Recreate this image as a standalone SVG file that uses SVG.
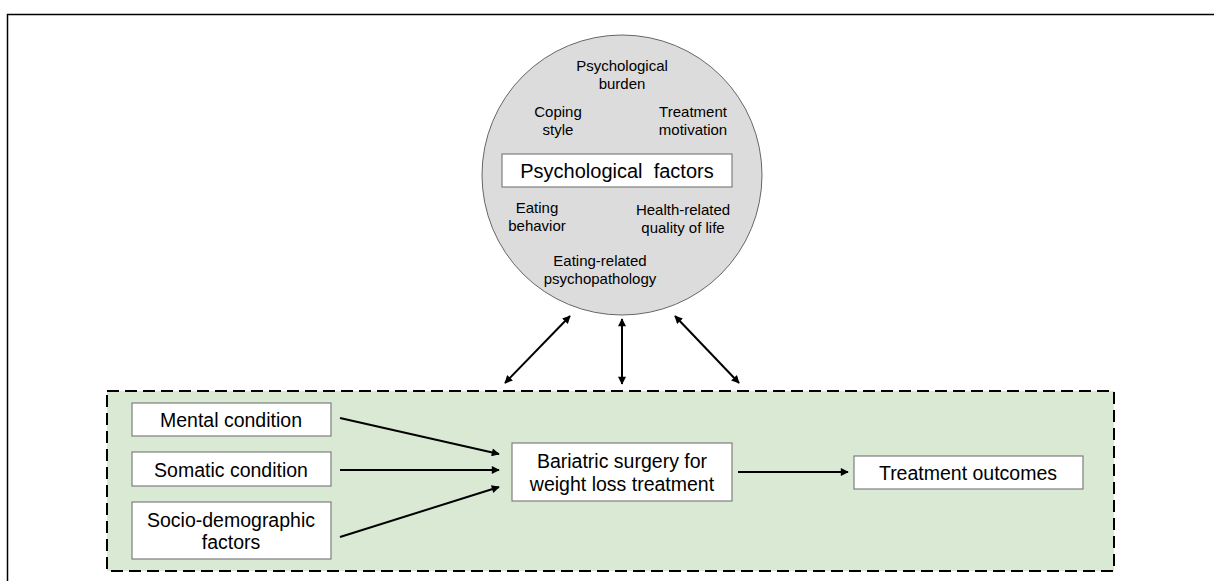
<svg xmlns="http://www.w3.org/2000/svg" width="1214" height="581" viewBox="0 0 1214 581">
<defs>
<marker id="ah" viewBox="0 0 10 10" refX="9" refY="5" markerWidth="9" markerHeight="8" markerUnits="userSpaceOnUse" orient="auto-start-reverse"><path d="M0,0 L10,5 L0,10 z" fill="#000"/></marker>
<style>
.box{fill:#fff;stroke:#7f7f7f;stroke-width:1.2}
.t{font-family:"Liberation Sans",Arial,sans-serif;fill:#000;text-anchor:middle}
.s{font-size:15px}
.m{font-size:19.5px}
.c{stroke:#000;stroke-width:2;fill:none}
</style>
</defs>
<rect width="1214" height="581" fill="#fff"/>
<path d="M7.5,590 V14.5 H1220" fill="none" stroke="#000" stroke-width="1.5"/>
<g id="context">
<rect x="107" y="391" width="1007" height="180" fill="#dae9d4" stroke="#000" stroke-width="2" stroke-dasharray="12,6"/>
</g>
<g id="psych">
<circle cx="622" cy="175" r="140" fill="#dcdcdc" stroke="#666" stroke-width="1"/>
<text class="t s" x="622" y="71">Psychological</text>
<text class="t s" x="622" y="89">burden</text>
<text class="t s" x="558" y="117">Coping</text>
<text class="t s" x="558" y="135">style</text>
<text class="t s" x="693" y="117">Treatment</text>
<text class="t s" x="693" y="135">motivation</text>
<rect class="box" x="502" y="154" width="230" height="33"/>
<text class="t" x="617" y="178" font-size="20" xml:space="preserve" style="white-space:pre">Psychological  factors</text>
<text class="t s" x="537" y="213">Eating</text>
<text class="t s" x="537" y="231">behavior</text>
<text class="t s" x="683" y="215">Health-related</text>
<text class="t s" x="683" y="233">quality of life</text>
<text class="t s" x="600" y="266">Eating-related</text>
<text class="t s" x="600" y="284">psychopathology</text>
</g>
<g id="mental">
<rect class="box" x="132" y="403" width="199" height="33"/>
<text class="t m" x="231" y="427">Mental condition</text>
</g>
<g id="somatic">
<rect class="box" x="132" y="452" width="199" height="34"/>
<text class="t m" x="231" y="477">Somatic condition</text>
</g>
<g id="socio">
<rect class="box" x="132" y="502" width="199" height="57"/>
<text class="t m" x="231" y="527">Socio-demographic</text>
<text class="t m" x="231" y="549">factors</text>
</g>
<g id="bariatric">
<rect class="box" x="512" y="443" width="220" height="58"/>
<text class="t m" x="622" y="468">Bariatric surgery for</text>
<text class="t m" x="622" y="491">weight loss treatment</text>
</g>
<g id="outcomes">
<rect class="box" x="854" y="456" width="229" height="33"/>
<text class="t m" x="968" y="480">Treatment outcomes</text>
</g>
<g id="connectors">
<line class="c" x1="570" y1="316" x2="505" y2="383" marker-start="url(#ah)" marker-end="url(#ah)"/>
<line class="c" x1="622" y1="319" x2="622" y2="384" marker-start="url(#ah)" marker-end="url(#ah)"/>
<line class="c" x1="675" y1="316" x2="739" y2="383" marker-start="url(#ah)" marker-end="url(#ah)"/>
<line class="c" x1="340" y1="418" x2="499" y2="454" marker-end="url(#ah)"/>
<line class="c" x1="340" y1="470" x2="499" y2="470" marker-end="url(#ah)"/>
<line class="c" x1="340" y1="537" x2="499" y2="487" marker-end="url(#ah)"/>
<line class="c" x1="738" y1="472" x2="848" y2="472" marker-end="url(#ah)"/>
</g>
</svg>
